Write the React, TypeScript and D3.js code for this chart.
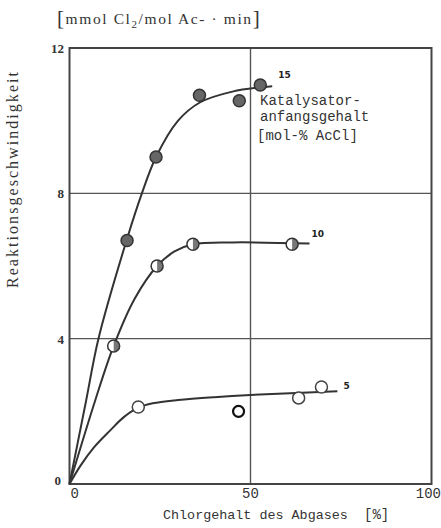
import React, { useRef, useEffect } from 'react';
import * as d3 from 'd3';

// measured points
const pts15 = [
  { x: 15.9, y: 6.7 },
  { x: 23.9, y: 9.0 },
  { x: 35.9, y: 10.7 },
  { x: 46.9, y: 10.55 },
  { x: 52.7, y: 10.98 },
];
const pts10 = [
  { x: 12.2, y: 3.8 },
  { x: 24.2, y: 6.0 },
  { x: 34.1, y: 6.6 },
  { x: 61.5, y: 6.6 },
];
const pts5 = [
  { x: 19.0, y: 2.12 },
  { x: 63.3, y: 2.37 },
  { x: 69.6, y: 2.67 },
];
const outlier5 = [{ x: 46.7, y: 2.0 }];

// hand-drawn fit curves
const curve15 = [
  { x: 0, y: 0 }, { x: 4.6, y: 2.3 }, { x: 8, y: 4 }, { x: 15.9, y: 6.75 },
  { x: 20, y: 8 }, { x: 23.9, y: 9.0 }, { x: 30, y: 10 }, { x: 36, y: 10.5 },
  { x: 45, y: 10.8 }, { x: 56, y: 10.95 },
];
const curve10 = [
  { x: 0, y: 0 }, { x: 7.1, y: 2.3 }, { x: 12.2, y: 3.8 }, { x: 18, y: 5.1 },
  { x: 24.2, y: 6.0 }, { x: 29, y: 6.4 }, { x: 34.1, y: 6.6 }, { x: 45, y: 6.65 },
  { x: 66.3, y: 6.62 },
];
const curve5 = [
  { x: 0, y: 0 }, { x: 3, y: 0.5 }, { x: 6.7, y: 1.0 }, { x: 11.2, y: 1.47 },
  { x: 15, y: 1.84 }, { x: 19, y: 2.1 }, { x: 23, y: 2.22 }, { x: 30, y: 2.31 },
  { x: 40, y: 2.39 }, { x: 50, y: 2.45 }, { x: 74, y: 2.55 },
];

const yTicks = [0, 4, 8, 12];
const xTicks = [0, 50, 100];
const curveLabels = ['15', '10', '5'];
const legendLines = ['Katalysator-', 'anfangsgehalt', '[mol-% AcCl]'];

const mono = 'Liberation Mono, DejaVu Sans Mono, monospace';
const serif = 'Liberation Serif, DejaVu Serif, serif';

export default function App() {
  const ref = useRef<SVGGElement>(null);

  useEffect(() => {
    const g = d3.select(ref.current);
    g.selectAll('*').remove();

    const x = d3.scaleLinear().domain([0, 100]).range([69.5, 431.5]);
    const y = d3.scaleLinear().domain([0, 12]).range([484, 48]);

    // grid
    g.append('line')
      .attr('x1', x(50)).attr('x2', x(50)).attr('y1', y(0)).attr('y2', y(12))
      .attr('stroke', '#555').attr('stroke-width', 1.4);
    [4, 8].forEach(v => {
      g.append('line')
        .attr('x1', x(0)).attr('x2', x(100)).attr('y1', y(v)).attr('y2', y(v))
        .attr('stroke', '#555').attr('stroke-width', 1.4);
    });
    // frame
    g.append('rect')
      .attr('x', x(0)).attr('y', y(12)).attr('width', x(100) - x(0)).attr('height', y(0) - y(12))
      .attr('fill', 'none').attr('stroke', '#444').attr('stroke-width', 2);

    // y ticks
    g.selectAll('.yt').data(yTicks).join('text')
      .attr('x', d => (d === 0 ? 61 : 64)).attr('y', d => y(d) + (d === 0 ? 1 : 5))
      .attr('text-anchor', 'end')
      .style('font-family', serif).style('font-size', '13px').style('font-weight', 'bold')
      .attr('fill', '#333')
      .text(d => d);
    // x ticks
    g.selectAll('.xt').data(xTicks).join('text')
      .attr('x', d => (d === 0 ? x(d) + 1 : d === 100 ? 441 : x(d))).attr('y', 498)
      .attr('text-anchor', d => (d === 0 ? 'start' : d === 100 ? 'end' : 'middle'))
      .style('font-family', mono).style('font-size', '14px')
      .attr('fill', '#333')
      .text(d => d);

    // curves
    const line = d3.line<{ x: number; y: number }>()
      .x(d => x(d.x)).y(d => y(d.y)).curve(d3.curveCatmullRom.alpha(0.5));
    [curve15, curve10, curve5].forEach(c => {
      g.append('path').attr('d', line(c)!).attr('fill', 'none')
        .attr('stroke', '#333').attr('stroke-width', 2);
    });

    // points 15 - filled
    g.selectAll('.p15').data(pts15).join('circle')
      .attr('cx', d => x(d.x)).attr('cy', d => y(d.y)).attr('r', 6)
      .attr('fill', '#666').attr('stroke', '#333').attr('stroke-width', 1.5);

    // points 10 - half filled
    const half = g.selectAll('.p10').data(pts10).join('g')
      .attr('transform', d => `translate(${x(d.x)},${y(d.y)})`);
    half.append('circle').attr('r', 6).attr('fill', '#fff');
    half.append('path').attr('d', d3.arc()({ innerRadius: 0, outerRadius: 6, startAngle: 0, endAngle: Math.PI } as any)!)
      .attr('fill', '#777');
    half.append('circle').attr('r', 6).attr('fill', 'none').attr('stroke', '#333').attr('stroke-width', 1.5);

    // points 5 - open
    g.selectAll('.p5').data(pts5).join('circle')
      .attr('cx', d => x(d.x)).attr('cy', d => y(d.y)).attr('r', 6)
      .attr('fill', '#fff').attr('stroke', '#444').attr('stroke-width', 1.5);
    g.selectAll('.p5o').data(outlier5).join('circle')
      .attr('cx', d => x(d.x)).attr('cy', d => y(d.y)).attr('r', 5.5)
      .attr('fill', '#fff').attr('stroke', '#111').attr('stroke-width', 2.2);

    // curve labels at the curve ends
    const ends = [curve15, curve10, curve5].map(c => c[c.length - 1]);
    const offs = [[6, -8], [2, -6], [6, -2]];
    g.selectAll('.lab').data(curveLabels).join('text')
      .attr('x', (d, i) => x(ends[i].x) + offs[i][0]).attr('y', (d, i) => y(ends[i].y) + offs[i][1])
      .style('font-family', 'DejaVu Sans, sans-serif').style('font-size', '9px').style('font-weight', 'bold')
      .attr('fill', '#222')
      .text(d => d);

    // legend
    g.selectAll('.leg').data(legendLines).join('text')
      .attr('x', (d, i) => (i === 2 ? 257 : 260)).attr('y', (d, i) => [105, 121, 140][i])
      .style('font-family', mono).style('font-size', '14px')
      .attr('fill', '#333')
      .text(d => d);
  }, []);

  return (
    <svg width={441} height={528} style={{ position: 'absolute', left: 0, top: 0, background: '#fff' }}>
      <g ref={ref} />
      <text x={57} y={24} fill="#333" style={{ fontFamily: serif, fontSize: '15.5px', letterSpacing: '1.6px' }}>
        <tspan fontSize={21} dy={1}>[</tspan><tspan dy={-1}>mmol Cl</tspan><tspan dy={4} fontSize={11}>2</tspan>
        <tspan dy={-4}>/mol Ac- · min</tspan><tspan fontSize={21} dy={1}>]</tspan>
      </text>
      <text transform="translate(18,180) rotate(-90)" textAnchor="middle" fill="#333"
        textLength={216} style={{ fontFamily: serif, fontSize: '16px' }}>
        Reaktionsgeschwindigkeit
      </text>
      <text x={163} y={519} fill="#333" style={{ fontFamily: mono, fontSize: '13.4px' }}>
        Chlorgehalt des Abgases
      </text>
      <text x={364} y={519} fill="#333" style={{ fontFamily: mono, fontSize: '14px' }}>
        [%]
      </text>
    </svg>
  );
}
